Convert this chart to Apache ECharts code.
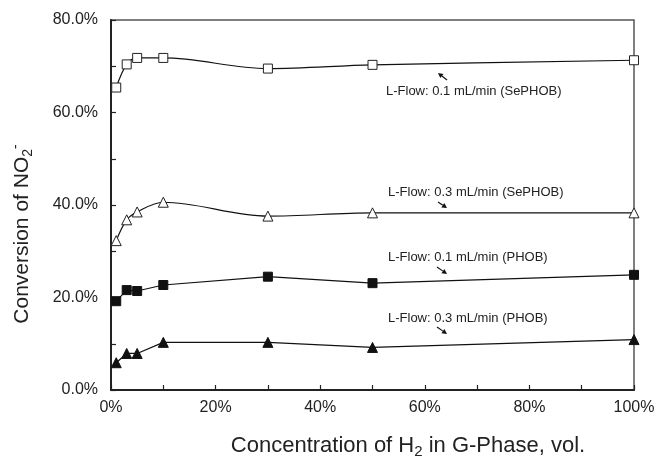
<!DOCTYPE html>
<html>
<head>
<meta charset="utf-8">
<script src="https://cdn.jsdelivr.net/npm/echarts@6/dist/echarts.min.js"></script>
<style>
html,body{margin:0;padding:0;background:#fff;}
#chart{width:660px;height:460px;}
</style>
</head>
<body>
<div id="chart"></div>
<script>
// H2 concentration in gas phase (%)
const xValues = [1, 3, 5, 10, 30, 50, 100];
// Conversion of NO2- (%)
const sephob01 = [65.4, 70.4, 71.8, 71.8, 69.5, 70.3, 71.3];
const sephob03 = [32.3, 36.8, 38.5, 40.6, 37.6, 38.3, 38.3];
const phob01 = [19.2, 21.6, 21.4, 22.7, 24.5, 23.1, 24.9];
const phob03 = [5.9, 7.9, 7.9, 10.3, 10.3, 9.2, 10.9];

const seriesNames = [
  'L-Flow: 0.1 mL/min (SePHOB)',
  'L-Flow: 0.3 mL/min (SePHOB)',
  'L-Flow: 0.1 mL/min (PHOB)',
  'L-Flow: 0.3 mL/min (PHOB)'
];
const xTitle = 'Concentration of H';
const yTitle = 'Conversion of NO';

const FONT = "'Liberation Sans', Arial, sans-serif";
const pairs = ys => xValues.map((x, i) => [x, ys[i]]);

function arrow(x1, y1, x2, y2) {
  const ang = Math.atan2(y2 - y1, x2 - x1);
  const L = 5, W = 2.6;
  const bx = x2 - L * Math.cos(ang), by = y2 - L * Math.sin(ang);
  const px = -Math.sin(ang) * W, py = Math.cos(ang) * W;
  return [
    {type: 'line', shape: {x1: x1, y1: y1, x2: bx, y2: by}, style: {stroke: '#111', lineWidth: 1.2}, silent: true},
    {type: 'polygon', shape: {points: [[x2, y2], [bx + px, by + py], [bx - px, by - py]]}, style: {fill: '#111'}, silent: true}
  ];
}

const annStyle = {fontFamily: FONT, fontSize: 13, fill: '#222'};
const graphics = [
  {type: 'text', left: 386, top: 85, style: Object.assign({text: seriesNames[0]}, annStyle)},
  {type: 'text', left: 388, top: 186, style: Object.assign({text: seriesNames[1]}, annStyle)},
  {type: 'text', left: 388, top: 251, style: Object.assign({text: seriesNames[2]}, annStyle)},
  {type: 'text', left: 388, top: 312, style: Object.assign({text: seriesNames[3]}, annStyle)},
  ...arrow(447, 80, 438, 73),
  ...arrow(438, 202, 447, 208),
  ...arrow(437, 267, 447, 274),
  ...arrow(437, 327, 447, 334),
  {
    type: 'text', x: 408, y: 446,
    style: {
      text: xTitle + '{sub|2} in G-Phase, vol.',
      fontFamily: FONT, fontSize: 22, fill: '#222',
      align: 'center', verticalAlign: 'middle',
      rich: {sub: {fontFamily: FONT, fontSize: 15, fill: '#222', verticalAlign: 'bottom', lineHeight: 27, padding: [7, 0, 0, 0]}}
    }
  },
  {
    type: 'text', x: 22, y: 234, rotation: Math.PI / 2,
    style: {
      text: yTitle + '{sub|2}{sup|-}',
      fontFamily: FONT, fontSize: 21, fill: '#222',
      align: 'center', verticalAlign: 'middle',
      rich: {
        sub: {fontFamily: FONT, fontSize: 14, fill: '#222', verticalAlign: 'bottom', lineHeight: 26, padding: [7, 0, 0, 0]},
        sup: {fontFamily: FONT, fontSize: 14, fill: '#222', verticalAlign: 'top', lineHeight: 26}
      }
    }
  }
];

const lineBase = {type: 'line', lineStyle: {color: '#111', width: 1.2}, z: 3};

const chart = echarts.init(document.getElementById('chart'), null, {renderer: 'canvas'});
chart.setOption({
  animation: false,
  backgroundColor: '#fff',
  grid: {left: 111, right: 26, top: 20, bottom: 70, show: true, borderColor: '#555', borderWidth: 1.5, backgroundColor: 'transparent'},
  xAxis: {
    type: 'value', min: 0, max: 100, interval: 10,
    axisLine: {show: true, onZero: false, lineStyle: {color: '#222', width: 2}},
    axisTick: {show: true, inside: true, length: 5, lineStyle: {color: '#222', width: 1.2}},
    splitLine: {show: false},
    axisLabel: {
      margin: 10, color: '#222', fontFamily: FONT, fontSize: 16,
      formatter: v => (v % 20 === 0 ? v + '%' : '')
    }
  },
  yAxis: {
    type: 'value', min: 0, max: 80, interval: 10,
    axisLine: {show: true, onZero: false, lineStyle: {color: '#222', width: 2}},
    axisTick: {show: true, inside: true, length: 5, lineStyle: {color: '#222', width: 1.2}},
    splitLine: {show: false},
    axisLabel: {
      margin: 13, color: '#222', fontFamily: FONT, fontSize: 16,
      formatter: v => (v % 20 === 0 ? v.toFixed(1) + '%' : '')
    }
  },
  series: [
    Object.assign({}, lineBase, {name: seriesNames[0], data: pairs(sephob01), smooth: 0.35,
      symbol: 'rect', symbolSize: 9, itemStyle: {color: '#fff', borderColor: '#222', borderWidth: 1}}),
    Object.assign({}, lineBase, {name: seriesNames[1], data: pairs(sephob03), smooth: 0.35,
      symbol: 'triangle', symbolSize: 10, itemStyle: {color: '#fff', borderColor: '#222', borderWidth: 1}}),
    Object.assign({}, lineBase, {name: seriesNames[2], data: pairs(phob01), smooth: false,
      symbol: 'rect', symbolSize: 9, itemStyle: {color: '#111', borderColor: '#111', borderWidth: 1}}),
    Object.assign({}, lineBase, {name: seriesNames[3], data: pairs(phob03), smooth: false,
      symbol: 'triangle', symbolSize: 10, itemStyle: {color: '#111', borderColor: '#111', borderWidth: 1}})
  ],
  graphic: graphics
});
</script>
</body>
</html>
